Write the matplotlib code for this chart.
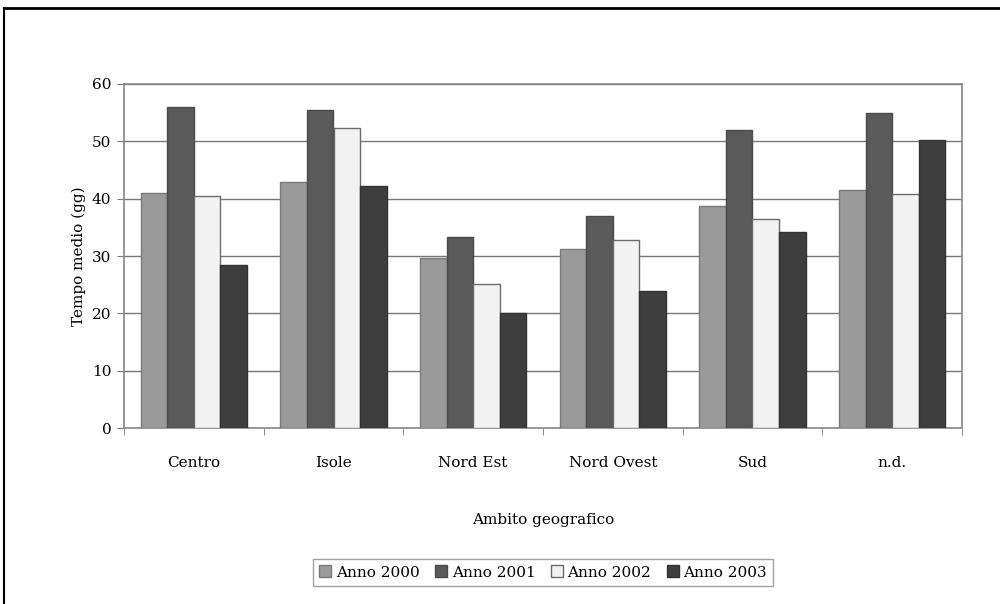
import numpy as np
import matplotlib.pyplot as plt
from matplotlib.lines import Line2D

plt.rcParams['font.family'] = ['DejaVu Serif']

categories = ['Centro', 'Isole', 'Nord Est', 'Nord Ovest', 'Sud', 'n.d.']
series = ['Anno 2000', 'Anno 2001', 'Anno 2002', 'Anno 2003']
anno_2000 = [41.0, 43.0, 29.7, 31.3, 38.8, 41.5]
anno_2001 = [56.0, 55.5, 33.3, 37.0, 52.0, 55.0]
anno_2002 = [40.5, 52.3, 25.2, 32.8, 36.4, 40.8]
anno_2003 = [28.5, 42.3, 20.1, 24.0, 34.2, 50.2]
values = [anno_2000, anno_2001, anno_2002, anno_2003]

colors = ['#9a9a9a', '#5a5a5a', '#f2f2f2', '#3e3e3e']
edges = ['#7a7a7a', '#4a4a4a', '#6a6a6a', '#333333']

fig = plt.figure(figsize=(10, 6.04), dpi=100)
ax = fig.add_axes([0.124, 0.291, 0.838, 0.570])

x = np.arange(len(categories))
w = 0.19
for i, vals in enumerate(values):
    ax.bar(x + (i - 1.5) * w, vals, w, color=colors[i], edgecolor=edges[i],
           linewidth=1.0, label=series[i], zorder=3)

fs = 11
ax.set_xlim(-0.5, len(categories) - 0.5)
ax.set_ylim(0, 60)
ax.set_yticks(range(0, 61, 10))
ax.set_xticks(x)
ax.set_xticklabels(categories, fontsize=fs)
ax.set_xticks(np.arange(-0.5, len(categories), 1), minor=True)
ax.tick_params(axis='x', which='major', length=0, pad=20)
ax.tick_params(axis='x', which='minor', length=5, color='#777777')
ax.tick_params(axis='y', length=5, color='#777777', labelsize=fs, pad=4)
ax.yaxis.grid(True, color='#777777', linewidth=1.0, zorder=0)
for s in ax.spines.values():
    s.set_color('#888888')
    s.set_linewidth(1.2)

ax.set_xlabel('Ambito geografico', fontsize=fs, labelpad=31)
ax.set_ylabel('Tempo medio (gg)', fontsize=fs, labelpad=4)

leg = ax.legend(loc='center', bbox_to_anchor=(0.5, -0.419), ncol=4, fontsize=fs,
                frameon=True, fancybox=False, edgecolor='#888888',
                handlelength=0.8, handleheight=0.8, handletextpad=0.3,
                columnspacing=1.0, borderpad=0.4)
leg.get_frame().set_linewidth(1.0)

# outer frame of the original figure
fig.add_artist(Line2D([0.004, 1.0], [0.987, 0.987], color='black', linewidth=2.0,
                      transform=fig.transFigure))
fig.add_artist(Line2D([0.004, 0.004], [0.0, 0.987], color='black', linewidth=1.5,
                      transform=fig.transFigure))

fig.savefig('out.png', dpi=100)
